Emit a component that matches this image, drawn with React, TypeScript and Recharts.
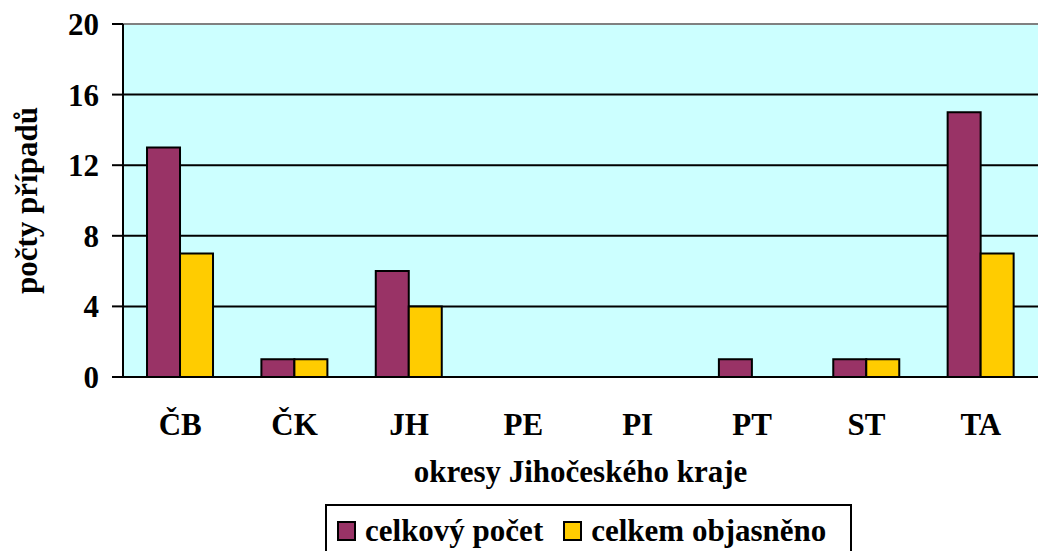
import { Bar, BarChart, CartesianGrid, ReferenceLine, XAxis, YAxis } from 'recharts';

const districts = ['ČB', 'ČK', 'JH', 'PE', 'PI', 'PT', 'ST', 'TA'];
const totalCases = [13, 1, 6, 0, 0, 1, 1, 15];
const solvedCases = [7, 1, 4, 0, 0, 0, 1, 7];
const yTicks = [0, 4, 8, 12, 16, 20];
const edgeTicks = [0, 1, 2, 3, 4, 5, 6, 7, 8];

const series = [
  { key: 'total', name: 'celkový počet', color: '#993366' },
  { key: 'solved', name: 'celkem objasněno', color: '#FFCC00' },
];

const data = districts.map((name, i) => ({
  name,
  total: totalCases[i],
  solved: solvedCases[i],
}));

const font = '"Liberation Serif", "Times New Roman", serif';

export default function App() {
  return (
    <div style={{ position: 'absolute', left: 0, top: 0, width: 1039, height: 551, background: '#fff', fontFamily: font, overflow: 'hidden' }}>
      <BarChart
        width={1039}
        height={551}
        data={data}
        margin={{ top: 24, right: 1, left: 0, bottom: 74 }}
        barCategoryGap="21%"
        barGap={0}
      >
        <CartesianGrid vertical={false} fill="#CCFFFF" stroke="#000" strokeWidth={2} xAxisId="cat" />
        <ReferenceLine y={20} stroke="#808080" strokeWidth={2} xAxisId="cat" />
        <XAxis
          xAxisId="edges"
          type="number"
          domain={[0, 8]}
          ticks={edgeTicks}
          tick={false}
          tickSize={9}
          tickLine={{ stroke: '#000', strokeWidth: 2 }}
          axisLine={{ stroke: '#000', strokeWidth: 2 }}
          height={0}
          allowDataOverflow
        />
        <XAxis
          xAxisId="cat"
          dataKey="name"
          axisLine={false}
          tickLine={false}
          tickSize={0}
          tickMargin={36}
          height={100}
          tick={{ fill: '#000', fontSize: 31, fontWeight: 'bold', fontFamily: font }}
          label={{
            content: ({ viewBox }: any) => (
              <text
                x={viewBox.x + viewBox.width / 2}
                y={482}
                textAnchor="middle"
                fontSize={31}
                fontWeight="bold"
                fontFamily={font}
                fill="#000"
              >
                okresy Jihočeského kraje
              </text>
            ),
          }}
        />
        <YAxis
          domain={[0, 20]}
          ticks={yTicks}
          width={123}
          tickSize={11}
          tickMargin={13}
          axisLine={{ stroke: '#000', strokeWidth: 2 }}
          tickLine={{ stroke: '#000', strokeWidth: 2 }}
          tick={{ fill: '#000', fontSize: 31, fontWeight: 'bold', fontFamily: font }}
          label={{
            content: ({ viewBox }: any) => {
              const cy = viewBox.y + viewBox.height / 2;
              return (
                <text
                  x={26}
                  y={cy}
                  transform={`rotate(-90, 26, ${cy})`}
                  textAnchor="middle"
                  dominantBaseline="central"
                  fontSize={31}
                  fontWeight="bold"
                  fontFamily={font}
                  fill="#000"
                >
                  počty případů
                </text>
              );
            },
          }}
        />
        {series.map((s) => (
          <Bar
            key={s.key}
            xAxisId="cat"
            dataKey={s.key}
            name={s.name}
            fill={s.color}
            stroke="#000"
            strokeWidth={2}
            isAnimationActive={false}
          />
        ))}
      </BarChart>
      <div
        style={{
          position: 'absolute',
          left: 325,
          top: 504,
          width: 527,
          height: 52,
          border: '2px solid #000',
          background: '#fff',
          display: 'flex',
          alignItems: 'flex-start',
          paddingTop: 8,
          paddingLeft: 10,
          boxSizing: 'border-box',
        }}
      >
        {series.map((s) => (
          <div key={s.key} style={{ display: 'flex', alignItems: 'center', marginRight: 20 }}>
            <span
              style={{
                display: 'inline-block',
                width: 19,
                height: 20,
                boxSizing: 'border-box',
                background: s.color,
                border: '2px solid #000',
                marginRight: 9,
              }}
            />
            <span style={{ fontSize: 31, fontWeight: 'bold', lineHeight: '34px', color: '#000', whiteSpace: 'nowrap' }}>{s.name}</span>
          </div>
        ))}
      </div>
    </div>
  );
}
